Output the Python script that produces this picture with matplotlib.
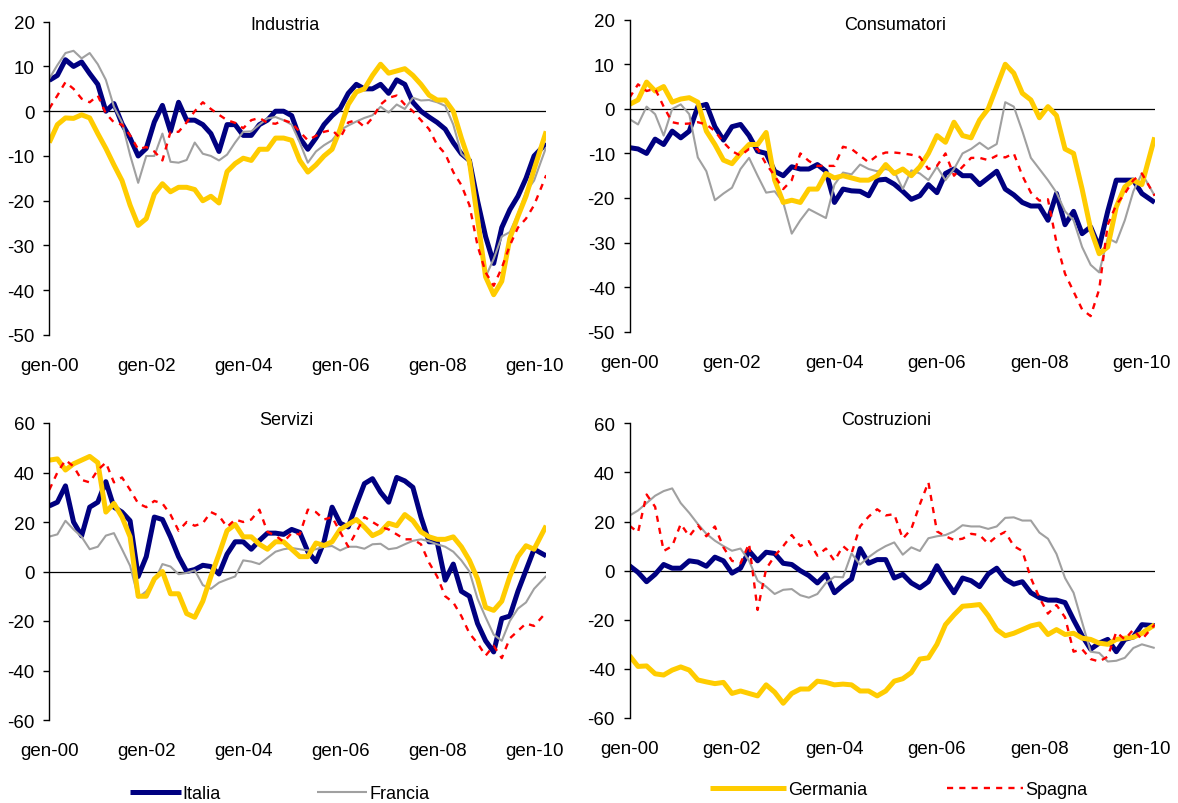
import matplotlib
matplotlib.use("Agg")
import matplotlib.pyplot as plt

# months since gen-00: every second month up to gen-10, then the last observation (apr-10)
MONTHS = list(range(0, 121, 2)) + [123]
TICK_MONTHS = [0, 24, 48, 72, 96, 120]
TICK_LABELS = ["gen-00", "gen-02", "gen-04", "gen-06", "gen-08", "gen-10"]
COUNTRIES = ["Italia", "Francia", "Germania", "Spagna"]

# Industria
ind_italia = [6.9, 8, 11.5, 10, 11, 8.4, 6, 0, 1.7, -2.8,
              -6, -10, -8.3, -2.4, 1.3, -4.5, 2, -2, -2, -3,
              -5, -9, -3, -3, -5.4, -5.4, -3, -2, 0, 0,
              -1, -6, -8.5, -6, -3, -1, 0.6, 4, 6, 5,
              5, 6, 4, 7, 6, 2, 0, -1.3, -2.5, -4,
              -7, -9.5, -11, -20, -28, -34, -26, -22, -19, -15,
              -10, -7.2]
ind_francia = [7.3, 10.3, 13, 13.5, 11.8, 13, 10.5, 7, 1, -2.5,
               -9.8, -16, -10, -10, -5, -11.3, -11.5, -10.9, -7, -9.5,
               -10, -11, -9.7, -7, -4.6, -4.5, -3, -1.6, -1.3, -2,
               -3, -7, -11.5, -9, -7.6, -6.5, -4.2, -3.2, -2.3, -1.5,
               -0.9, 1, -0.3, 1.5, 0.5, 3, 2.4, 2.5, 2, 1.2,
               -3, -9.5, -11.3, -24, -37, -33, -28, -27, -23, -18,
               -15.5, -8]
ind_germania = [-7, -3, -1.5, -1.6, -0.8, -1.5, -5, -8.3, -12, -15.5,
                -21, -25.5, -24, -18.5, -16.2, -18, -17, -17, -17.5, -20,
                -19, -20.5, -13.5, -11.7, -10.5, -11, -8.5, -8.5, -6, -6,
                -6.5, -11, -13.6, -12, -10, -8.5, -4, 1.5, 4.3, 5,
                8, 10.5, 8.5, 9, 9.5, 8, 6, 3.6, 2.5, 2.5,
                0, -6, -11.3, -24, -37, -41, -38, -28.4, -23.5, -19,
                -13, -4.5]
ind_spagna = [0.6, 3.5, 6.5, 5, 2.8, 2, 3.5, -0.5, -2.5, -3,
              -5.4, -8.5, -8, -9, -11, -4.6, -4.6, -2.5, 0, 2,
              0.5, -0.8, -2, -2.6, -3.8, -2, -1.5, -2.6, -2.8, -2,
              -2.6, -4.6, -6.5, -5.5, -4.6, -4.2, -6, -2.5, -2, -3.5,
              -1.5, 1.5, 3, 3.5, 1.5, 0, -2, -4, -7.5, -9.5,
              -13.6, -16.5, -21, -30, -36, -39, -35, -30, -26, -24,
              -21, -14.3]

# Consumatori
con_italia = [-8.7, -9, -10, -6.8, -8, -5, -6.5, -5, 0.5, 1,
              -4, -7, -4, -3.5, -6, -9.5, -10, -14, -15, -13,
              -13.5, -13.5, -12.5, -14, -21, -18, -18.4, -18.5, -19.5, -16,
              -15.8, -16.9, -18.5, -20.3, -19.5, -17, -18.8, -14.5, -13.5, -15,
              -15, -17, -15.5, -14, -18, -19.3, -21, -21.8, -21.8, -25,
              -19, -26, -23, -28, -26.5, -31, -23, -16, -16, -16,
              -19, -21]
con_francia = [-2.3, -3.5, 0.5, -1.2, -6, 0, 1, -1.2, -10.9, -14,
               -20.5, -19, -17.7, -13.5, -11, -15, -18.8, -18.5, -21, -28,
               -25, -22.5, -23.5, -24.5, -17, -14.3, -14.7, -12.5, -13.5, -14,
               -13.5, -14, -18, -13.8, -14.5, -16, -13, -16, -13.5, -10,
               -9, -7.6, -9, -7.9, 1.5, 0.5, -5, -11, -13.5, -16,
               -18.8, -23, -25, -31, -35, -36.7, -29, -30, -25, -18.5,
               -14.5, -19.5]
con_germania = [1, 2, 6, 4, 5, 1.5, 2.2, 2.5, 1.5, -5,
                -8, -11.5, -12.3, -10, -8, -8, -5.3, -16, -21, -20.5,
                -21, -18, -18, -14.5, -15.5, -15, -15.5, -16, -16, -15,
                -12.5, -14.5, -13.5, -15, -13, -10, -6, -7.5, -3, -6,
                -6.5, -2.5, 0, 5, 10, 8, 3.5, 2, -2, 0.5,
                -1.5, -9, -10, -18, -27, -32.5, -31, -22, -17.5, -16,
                -17, -6.4]
con_spagna = [2.5, 5.5, 4, 4.5, 0.5, -3, -3.4, -3.3, -3, -3.5,
              -5, -7.5, -9.5, -10.5, -9, -9, -12.4, -15, -18, -16,
              -10, -11.7, -12.8, -12.8, -12.8, -8.5, -9, -10.5, -12, -10.5,
              -9.8, -9.8, -10, -10.3, -10.8, -13.5, -12.8, -10, -15, -13,
              -11, -11, -11.5, -10.5, -10.9, -10, -15, -18.8, -20.6, -20.3,
              -30, -37, -41, -45, -46.5, -40.5, -26, -21.5, -19, -16,
              -14.5, -19.5]

# Servizi
ser_italia = [26.5, 28, 34.6, 20, 14.4, 26, 28, 36.3, 26, 24,
              20.5, -2, 6, 22, 21, 14, 6, 0, 0.8, 2.5,
              2, -1, 7, 12, 12, 9, 12.5, 15.5, 15.5, 15,
              17, 15.8, 8, 4, 12, 26, 19.5, 18, 27, 35.5,
              37.5, 32, 28, 38, 36.6, 34, 22, 12, 12, -3.5,
              3, -8, -10, -21, -28, -32.5, -19, -18, -8, 0.5,
              9, 6.3]
ser_francia = [14.1, 15, 20.5, 17, 14, 9, 10, 14.5, 15.5, 9,
               2.3, -10.5, -8, -4, 3, 2, -1.1, -0.6, 0.5, -5.5,
               -7, -4.5, -3.2, -2, 4.5, 4, 3, 5.5, 8, 9,
               9.5, 9, 8.5, 9, 10, 10.3, 8.5, 10, 10, 9.2,
               11, 11.2, 9, 9.5, 11, 12.4, 13, 12.2, 11, 10,
               8, 4.5, 0, -11, -18.5, -25.5, -28, -20, -15, -12.5,
               -7, -1.8]
ser_germania = [45, 45.5, 41, 43.5, 45, 46.5, 44, 24, 27.5, 22,
                14, -10, -10, -3, 0, -9, -9, -17, -18.5, -12,
                -2, 7, 16.5, 19, 14, 14, 11, 9, 12, 12,
                9, 6, 6, 11.5, 10.5, 12, 17, 19, 21, 18,
                14.5, 16, 19.5, 18.5, 23, 20.5, 16, 14, 13, 13,
                14, 10, 4.5, -3, -14.5, -15.7, -12, -2, 6, 10.4,
                9, 18.5]
ser_spagna = [33, 40, 45, 42.5, 37, 36, 41, 44, 36, 38,
              33, 27.5, 26, 28.5, 27.5, 23, 16.5, 20, 18.5, 19.5,
              24, 22.5, 18, 21, 20, 21, 25, 16, 14.5, 12,
              15.5, 15, 25, 24, 21, 22, 16, 10, 16, 22,
              20, 18, 17, 15, 13, 13, 11, 3.6, -2, -10,
              -12.5, -18, -25, -29, -34, -30, -35, -27, -24, -21,
              -22, -16.5]

# Costruzioni
cos_italia = [2, -0.7, -4.5, -1.5, 2.5, 1, 1, 4, 3.5, 1.8,
              5.5, 4, -1, 1, 8, 4, 7.5, 7, 3, 2.5,
              0, -2, -5, -1.5, -9, -6, -3.4, 9, 3, 4.5,
              4.5, -3, -1.5, -5, -7, -4.5, 2, -3.8, -9, -3,
              -4.1, -6.5, -1.4, 1, -3.5, -5.5, -4.5, -9, -11, -12,
              -12, -13, -20, -26.5, -32, -29.5, -28, -33, -28, -27,
              -22, -22.4]
cos_francia = [22.4, 24.5, 27.5, 30.5, 32.4, 33.5, 27.5, 23.5, 19, 15,
               12.2, 10, 8.1, 9, 4, -4.1, -6.5, -9.5, -7.8, -7.5,
               -10, -11, -9.5, -5, -2.5, -2.7, 7, 2.5, 5.5, 8,
               10, 11.5, 6.5, 9.5, 8, 13.2, 14, 14.5, 16, 18.5,
               18, 18, 17, 18, 21.5, 21.7, 20.4, 20.4, 15.5, 13,
               6.8, -3, -9, -21, -33, -33.5, -37, -36.7, -35.5, -31.5,
               -30, -31.5]
cos_germania = [-34.6, -39, -38.8, -42, -42.5, -40.5, -39.2, -40.5, -44.5, -45.3,
                -46, -45.5, -50, -49, -50, -51, -46.5, -49.5, -54, -50,
                -48.2, -48.2, -45, -45.5, -46.5, -46.2, -46.5, -49, -49, -51,
                -49, -45, -44, -41.5, -36, -35.5, -30, -22, -18, -14.5,
                -14.2, -13.8, -18.3, -24, -26.5, -25.5, -24, -22.5, -21.7, -26,
                -24, -26, -25.5, -27.5, -28, -29.5, -30, -28, -27.5, -27.1,
                -25.5, -22]
cos_spagna = [18.3, 15.6, 31, 26, 8, 10, 19, 14, 18.5, 14,
              18, 9.5, 4, 3, 11, -16, 0.7, 6, 10, 14.5,
              10, 12, 6.1, 9, 4, 10, 7, 18, 22, 25,
              22.5, 23, 13, 17, 27, 36, 16, 14, 12.5, 13,
              15, 14.5, 11, 14, 15.8, 10, 8, -3, -11, -17.5,
              -14, -19, -33, -32, -36, -37, -35, -25, -28, -24,
              -28, -22]

STYLES = {
    "Italia": dict(color="#000080", lw=3.6),
    "Francia": dict(color="#A0A0A0", lw=1.5),
    "Germania": dict(color="#FFCC00", lw=3.6),
    "Spagna": dict(color="#FF0000", lw=1.7, linestyle=(0, (2.6, 2.6))),
}

W, H = 1178, 804
PANELS = [
    # title, series, ylim, yticks, (x0, x1, ytop, ybottom) in pixels, title centre
    ("Industria", [ind_italia, ind_francia, ind_germania, ind_spagna],
     (-50, 20), range(-50, 21, 10), (49.3, 546.2, 22.7, 336.0), (285, 25)),
    ("Consumatori", [con_italia, con_francia, con_germania, con_spagna],
     (-50, 20), range(-50, 21, 10), (629.5, 1154.7, 20.7, 332.7), (895, 25)),
    ("Servizi", [ser_italia, ser_francia, ser_germania, ser_spagna],
     (-60, 60), range(-60, 61, 20), (49.3, 546.2, 424.0, 721.0), (286, 421)),
    ("Costruzioni", [cos_italia, cos_francia, cos_germania, cos_spagna],
     (-60, 60), range(-60, 61, 20), (629.5, 1154.7, 424.3, 719.0), (886, 421)),
]

plt.rcParams["font.family"] = ["Liberation Sans", "DejaVu Sans"]
plt.rcParams["axes.unicode_minus"] = False

fig = plt.figure(figsize=(W / 100, H / 100), dpi=100)
lines = {}
for title, series, ylim, yticks, (x0, x1, yt, yb), (tx, ty) in PANELS:
    ax = fig.add_axes([x0 / W, 1 - yb / H, (x1 - x0) / W, (yb - yt) / H])
    for name, values in zip(COUNTRIES, series):
        (ln,) = ax.plot(MONTHS, values, label=name, solid_joinstyle="round",
                        solid_capstyle="butt", **STYLES[name])
        lines[name] = ln
    ax.axhline(0, color="black", lw=0.9, zorder=1)
    ax.set_xlim(0, 123)
    ax.set_ylim(*ylim)
    ax.set_yticks(list(yticks))
    ax.set_xticks(TICK_MONTHS)
    ax.set_xticklabels(TICK_LABELS)
    for side in ("top", "right", "bottom"):
        ax.spines[side].set_visible(False)
    ax.spines["left"].set_linewidth(1.0)
    ax.tick_params(axis="y", length=4.5, width=1.0, pad=6, labelsize=13.5)
    ax.tick_params(axis="x", length=0, pad=16, labelsize=13.5)
    fig.text(tx / W, 1 - ty / H, title, ha="center", va="center", fontsize=13)

leg_kw = dict(frameon=False, borderpad=0, borderaxespad=0, ncol=2, fontsize=13,
              handletextpad=0.12, loc="center left")
fig.legend([lines["Italia"], lines["Francia"]], ["Italia", "Francia"],
           bbox_to_anchor=(130 / W, 1 - 795 / H), handlelength=2.8,
           columnspacing=5.3, **leg_kw)
fig.legend([lines["Germania"], lines["Spagna"]], ["Germania", "Spagna"],
           bbox_to_anchor=(710 / W, 1 - 791 / H), handlelength=4.2,
           columnspacing=4.45, **leg_kw)

fig.savefig("out.png", dpi=100)
